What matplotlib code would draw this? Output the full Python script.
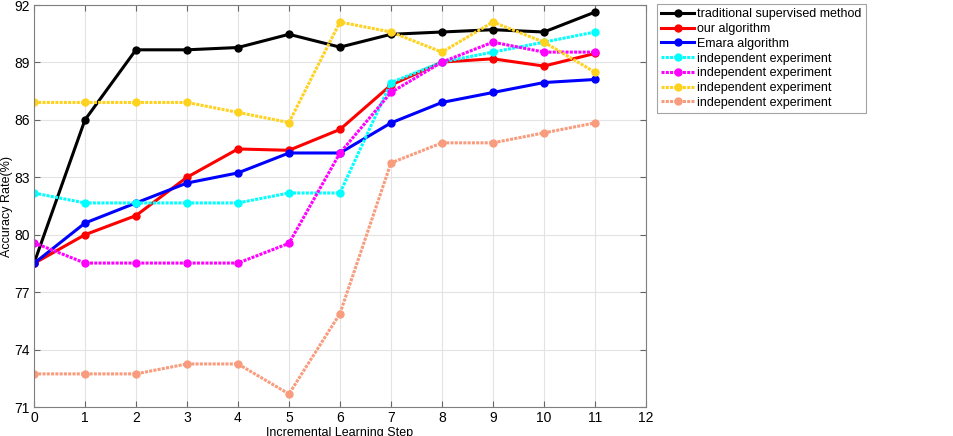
import numpy as np
import matplotlib.pyplot as plt

plt.rcParams['font.family'] = ['Liberation Sans', 'DejaVu Sans']

steps = np.arange(0, 12)

traditional = [78.5, 86.0, 89.66, 89.66, 89.78, 90.47, 89.8, 90.47, 90.59, 90.71, 90.59, 91.63]
ours = [78.5, 80.0, 81.0, 83.0, 84.48, 84.41, 85.5, 87.82, 89.02, 89.19, 88.81, 89.47]
emara = [78.5, 80.61, 81.66, 82.7, 83.23, 84.27, 84.27, 85.84, 86.91, 87.43, 87.95, 88.11]
indep1 = [82.18, 81.66, 81.66, 81.66, 81.66, 82.18, 82.18, 87.95, 89.02, 89.54, 90.06, 90.59]
indep2 = [79.58, 78.52, 78.52, 78.52, 78.52, 79.55, 84.27, 87.43, 89.02, 90.06, 89.54, 89.54]
indep3 = [86.91, 86.91, 86.91, 86.91, 86.39, 85.86, 91.11, 90.59, 89.54, 91.11, 90.06, 88.49]
indep4 = [72.73, 72.73, 72.73, 73.25, 73.25, 71.68, 75.88, 83.75, 84.8, 84.8, 85.32, 85.84]

series = [
    (traditional, 'traditional supervised method', 'black', '-'),
    (ours, 'our algorithm', 'red', '-'),
    (emara, 'Emara algorithm', 'blue', '-'),
    (indep1, 'independent experiment', '#00ffff', (0, (1, 0.4))),
    (indep2, 'independent experiment', '#ff00ff', (0, (1, 0.4))),
    (indep3, 'independent experiment', '#ffd21f', (0, (1, 0.4))),
    (indep4, 'independent experiment', '#f99c7e', (0, (1, 0.4))),
]

fig = plt.figure(figsize=(9.54, 4.36), dpi=100)
ax = fig.add_axes([0.0356, 0.0665, 0.6415, 0.922])

for vals, name, col, ls in series:
    ax.plot(steps, vals, color=col, linestyle=ls, linewidth=2.2, marker='o',
            markersize=5, label=name)

ax.set_xlim(0, 12)
ax.set_ylim(71, 92)
ax.set_xticks(range(0, 13))
ax.set_yticks(range(71, 93, 3))
ax.grid(True, color='#e3e3e3', linewidth=0.8)
ax.set_axisbelow(True)
ax.tick_params(direction='in', top=True, right=True, labelsize=10, length=4,
               color='#666666', pad=3)
for s in ax.spines.values():
    s.set_color('#7f7f7f')
ax.set_xlabel('Incremental Learning Step', fontsize=9, labelpad=1)
ax.set_ylabel('Accuracy Rate(%)', fontsize=9, labelpad=1)

leg = ax.legend(loc='upper left', bbox_to_anchor=(657 / 954, 1 - 4 / 436),
                bbox_transform=fig.transFigure, fontsize=9, frameon=True,
                fancybox=False, edgecolor='#8c8c8c', borderpad=0.35,
                labelspacing=0.22, handlelength=2.6, handletextpad=0.25,
                borderaxespad=0)
leg.get_frame().set_linewidth(0.8)

fig.savefig('out.png', dpi=100)
